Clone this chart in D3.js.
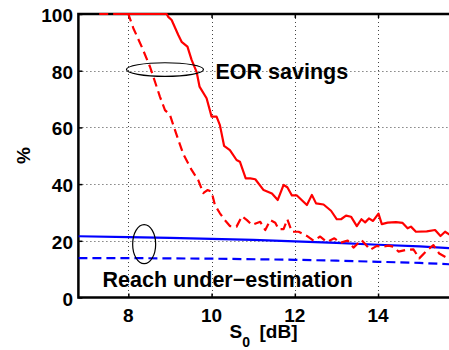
<!DOCTYPE html>
<html><head><meta charset="utf-8">
<script src="https://cdn.jsdelivr.net/npm/d3@7"></script>
<style>
html,body{margin:0;padding:0;background:#fff;}
svg{display:block;font-family:"Liberation Sans",Arial,Helvetica,sans-serif;font-weight:bold;}
</style></head>
<body><svg id="c" width="449" height="350"></svg>
<script>
// ---- data ----
const xTicks = [8, 10, 12, 14];
const yTicks = [0, 20, 40, 60, 80, 100];
const eorSolidX = [7.65,8.92,8.96,9.04,9.2,9.28,9.42,9.52,9.64,9.71,9.88,10.0,10.12,10.2,10.3,10.44,10.6,10.68,10.82,10.93,11.05,11.25,11.45,11.59,11.73,11.82,11.93,12.05,12.29,12.41,12.51,12.69,12.87,13.01,13.11,13.23,13.35,13.49,13.6,13.69,13.78,13.88,14.01,14.09,14.23,14.43,14.59,14.71,14.79,14.91,15.17,15.37,15.5,15.61,15.75];
const eorSolidY = [100,100,99,97.9,92.6,90.2,88.5,83.8,79.6,74.4,70.3,63.8,63.8,60.8,53.5,52.0,48.5,47.9,42.0,42.0,41.7,37.9,36.7,34.4,39.7,38.9,36.0,36.0,32.6,36.2,33.2,32.8,30.6,27.6,27.6,28.9,28.5,25.2,27.6,26.5,27.9,27.0,29.6,25.9,26.4,26.6,26.3,24.4,25.0,23.2,23.3,23.8,21.7,23.2,21.9];
const eorDashX = [7.3,8.0,8.12,8.32,8.52,8.64,8.76,8.88,9.0,9.08,9.2,9.32,9.52,9.68,9.8,9.9,10.0,10.08,10.2,10.32,10.44,10.6,10.73,10.85,10.97,11.17,11.29,11.41,11.53,11.61,11.73,11.82,11.93,12.09,12.29,12.45,12.61,12.77,12.95,13.09,13.27,13.41,13.6,13.69,13.81,13.97,14.09,14.25,14.37,14.49,14.67,14.85,14.99,15.19,15.33,15.47,15.63,15.75];
const eorDashY = [100,100,95,88.5,81.4,76.1,70.8,66.1,64.4,60.8,55.6,50.6,45.0,41.4,36.8,37.9,37.3,32.6,29.7,27.3,25.2,25.0,28.7,27.3,25.6,26.7,23.8,27.3,26.4,24.1,24.1,27.6,23.2,23.2,21.7,20.0,21.5,19.6,20.9,19.3,20.1,17.6,20.3,18.9,16.8,18.2,17.9,18.3,17.9,16.2,16.8,17.0,13.8,16.8,18.5,15.5,14.2,13.8];
const reachSolidX = [6.8, 8, 9, 10, 11, 12, 13, 14, 15, 15.75];
const reachSolidY = [21.6, 21.3, 21.0, 20.7, 20.3, 19.8, 19.3, 18.6, 18.0, 17.4];
const reachDashX = [6.8, 8, 10, 12, 13, 14, 15, 15.75];
const reachDashY = [13.9, 13.9, 13.7, 13.3, 13.0, 12.6, 12.2, 11.7];
const labels = { eor: "EOR savings", reach: "Reach under\u2212estimation", ylab: "%" };

// ---- scales ----
const svg = d3.select("#c");
const x = d3.scaleLinear().domain([6.8, 16]).range([78.4, 461.3]);
const y = d3.scaleLinear().domain([0, 100]).range([297.5, 14]);
const L = 78.4, R = 461.3, T = 14, B = 297.5;

svg.append("rect").attr("width",449).attr("height",350).attr("fill","#fff");

// grid
const g = svg.append("g").attr("stroke","#444").attr("stroke-width",1).attr("stroke-dasharray","1,3");
g.selectAll("line.vx").data(xTicks).join("line")
  .attr("x1",d=>Math.round(x(d))+0.5).attr("x2",d=>Math.round(x(d))+0.5).attr("y1",T).attr("y2",B);
g.selectAll("line.hy").data(yTicks.filter(d=>d>0&&d<100)).join("line")
  .attr("y1",d=>Math.round(y(d))+0.5).attr("y2",d=>Math.round(y(d))+0.5).attr("x1",L).attr("x2",R);

// axes (inward ticks)
const axB = d3.axisTop(x).tickValues(xTicks).tickSize(4).tickFormat("");
const axT = d3.axisBottom(x).tickValues(xTicks).tickSize(4).tickFormat("");
const axL = d3.axisRight(y).tickValues(yTicks).tickSize(4).tickFormat("");
for (const [ax, tr] of [[axB,`translate(0,${B})`],[axT,`translate(0,${T})`],[axL,`translate(${L},0)`]]) {
  const a = svg.append("g").attr("transform",tr).call(ax);
  a.select(".domain").remove();
  a.selectAll("line").attr("stroke","#000").attr("stroke-width",1.5);
}
svg.append("path").attr("d",`M${R},${T}H${L}V${B}H${R}`).attr("fill","none").attr("stroke","#000").attr("stroke-width",2.5);

// tick labels
svg.append("g").selectAll("text").data(xTicks).join("text")
  .attr("x",d=>x(d)).attr("y",321.5).attr("text-anchor","middle").attr("font-size",19).text(d=>d);
svg.append("g").selectAll("text").data(yTicks).join("text")
  .attr("x",73).attr("y",d=>y(d)+8).attr("text-anchor","end").attr("font-size",19).text(d=>d);

// axis labels
svg.append("text").attr("transform","translate(30,155.5) rotate(-90)").attr("text-anchor","middle")
  .attr("font-size",19).text(labels.ylab);
const xl = svg.append("text").attr("x",229.5).attr("y",338).attr("font-size",19);
xl.append("tspan").text("S");
xl.append("tspan").attr("font-size",14).attr("dy",9).text("0");
xl.append("tspan").attr("x",259.5).attr("dy",-9).text("[dB]");

// lines
const clip = svg.append("clipPath").attr("id","pc").append("rect").attr("x",L).attr("y",T-3).attr("width",R-L).attr("height",B-T+3);
const line = d3.line().x(d=>x(d[0])).y(d=>y(d[1]));
const zip = (a,b)=>a.map((v,i)=>[v,b[i]]);
const lg = svg.append("g").attr("clip-path","url(#pc)").attr("fill","none").attr("stroke-width",2.2).attr("stroke-linejoin","round");
lg.append("path").attr("d",line(zip(reachSolidX,reachSolidY))).attr("stroke","#0000ff");
lg.append("path").attr("d",line(zip(reachDashX,reachDashY))).attr("stroke","#0000ff").attr("stroke-dasharray","9,5");
lg.append("path").attr("d",line(zip(eorSolidX,eorSolidY))).attr("stroke","#ff0000");
lg.append("path").attr("d",line(zip(eorDashX,eorDashY))).attr("stroke","#ff0000").attr("stroke-dasharray","9,5");

// annotations
svg.append("ellipse").attr("cx",x(8.88)).attr("cy",y(80.4)).attr("rx",38.5).attr("ry",6.8)
  .attr("fill","none").attr("stroke","#000").attr("stroke-width",1.2);
svg.append("ellipse").attr("cx",x(8.38)).attr("cy",y(18.8)).attr("rx",11.5).attr("ry",19.5)
  .attr("fill","none").attr("stroke","#000").attr("stroke-width",1.2);
svg.append("text").attr("x",215.5).attr("y",79).attr("font-size",21.5).text(labels.eor);
svg.append("text").attr("x",102.5).attr("y",287.3).attr("font-size",21.5).text(labels.reach);
</script></body></html>
